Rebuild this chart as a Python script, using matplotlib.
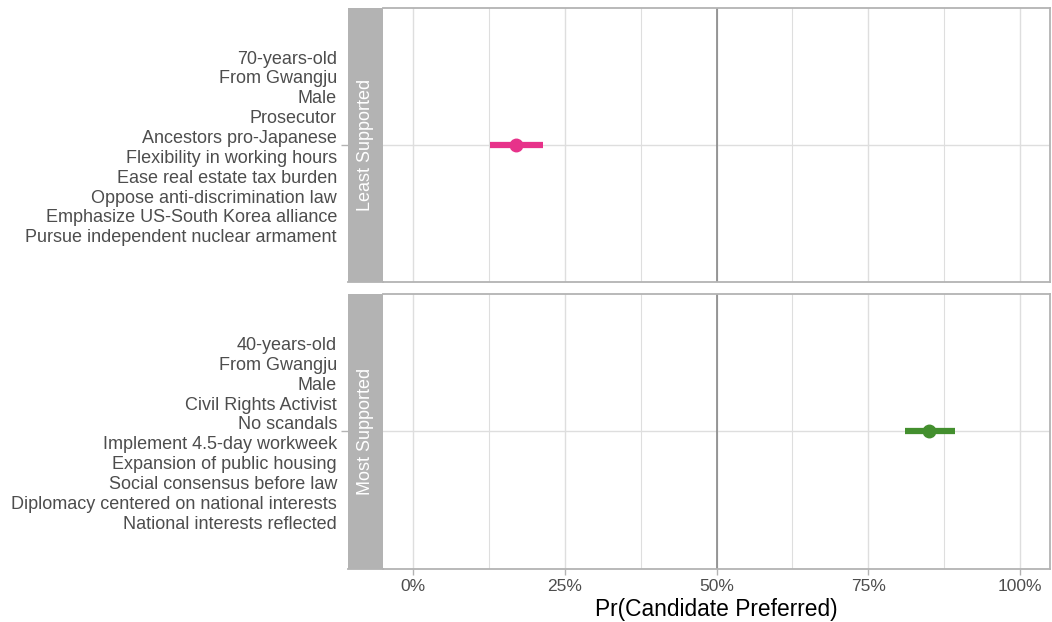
import matplotlib.pyplot as plt
from matplotlib.ticker import FixedLocator, PercentFormatter

plt.rcParams['font.family'] = ['Liberation Sans', 'DejaVu Sans']

# facet labels, candidate profiles and estimates
facets = ['Least Supported', 'Most Supported']
profiles = [
    ['70-years-old', 'From Gwangju', 'Male', 'Prosecutor', 'Ancestors pro-Japanese',
     'Flexibility in working hours', 'Ease real estate tax burden',
     'Oppose anti-discrimination law', 'Emphasize US-South Korea alliance',
     'Pursue independent nuclear armament'],
    ['40-years-old', 'From Gwangju', 'Male', 'Civil Rights Activist', 'No scandals',
     'Implement 4.5-day workweek', 'Expansion of public housing',
     'Social consensus before law', 'Diplomacy centered on national interests',
     'National interests reflected'],
]
estimates = [0.170, 0.851]
lower = [0.127, 0.811]
upper = [0.214, 0.893]
colors = ['#e7328a', '#438f2e']

x_ticks = [0, 0.25, 0.5, 0.75, 1.0]
x_minor = [0.125, 0.375, 0.625, 0.875]

fig = plt.figure(figsize=(10.52, 6.22), dpi=100)
W, H = 1052, 622
panels = [(8, 282), (294, 569)]
px0, px1, sx0 = 383, 1050, 348

border = '#b3b3b3'
grid = '#dedede'

for i, (top, bot) in enumerate(panels):
    ax = fig.add_axes([px0 / W, 1 - bot / H, (px1 - px0) / W, (bot - top) / H])
    sax = fig.add_axes([sx0 / W, 1 - bot / H, (px0 - sx0) / W, (bot - top) / H])

    ax.set_xlim(-0.05, 1.05)
    ax.set_ylim(-0.6, 0.6)
    ax.xaxis.set_major_locator(FixedLocator(x_ticks))
    ax.xaxis.set_minor_locator(FixedLocator(x_minor))
    ax.xaxis.set_major_formatter(PercentFormatter(1.0, decimals=0))
    ax.set_yticks([0])
    ax.set_yticklabels([])
    ax.tick_params(axis='y', length=0)
    ax.grid(True, which='major', color=grid, linewidth=1.0, zorder=0)
    ax.grid(True, which='minor', axis='x', color=grid, linewidth=0.8, zorder=0)
    ax.set_axisbelow(True)
    ax.axvline(0.5, color='#7f7f7f', linewidth=1.1, zorder=1)

    ax.plot([lower[i], upper[i]], [0, 0], color=colors[i], linewidth=4.5,
            solid_capstyle='butt', zorder=3)
    ax.plot([estimates[i]], [0], 'o', color=colors[i], markersize=9, zorder=4)

    for side in ['top', 'right', 'bottom']:
        ax.spines[side].set_color(border)
        ax.spines[side].set_linewidth(1.3)
    ax.spines['left'].set_visible(False)

    if i == 0:
        ax.tick_params(axis='x', which='both', length=0, labelbottom=False)
    else:
        ax.tick_params(axis='x', which='major', length=4, color=border, width=1,
                       labelsize=12.5, labelcolor='#4d4d4d', pad=3)
        ax.tick_params(axis='x', which='minor', length=0)
        ax.set_xlabel('Pr(Candidate Preferred)', fontsize=16.4, labelpad=3)

    # facet strip with the profile text as its tick label
    sax.set_facecolor(border)
    sax.set_xlim(0, 1)
    sax.set_ylim(-0.6, 0.6)
    sax.set_xticks([])
    sax.set_yticks([0])
    sax.set_yticklabels(['\n'.join(profiles[i])], fontsize=13, color='#4d4d4d',
                        linespacing=1.22, multialignment='right')
    sax.tick_params(axis='y', length=5, color=border, width=1, pad=3)
    for s in sax.spines.values():
        s.set_visible(False)
    sax.spines['bottom'].set_visible(True)
    sax.spines['bottom'].set_color(border)
    sax.spines['bottom'].set_linewidth(1.3)
    sax.text(0.5, 0, facets[i], rotation=90, ha='center', va='center',
             color='white', fontsize=13, transform=sax.get_yaxis_transform())

fig.savefig('out.png', dpi=100)
